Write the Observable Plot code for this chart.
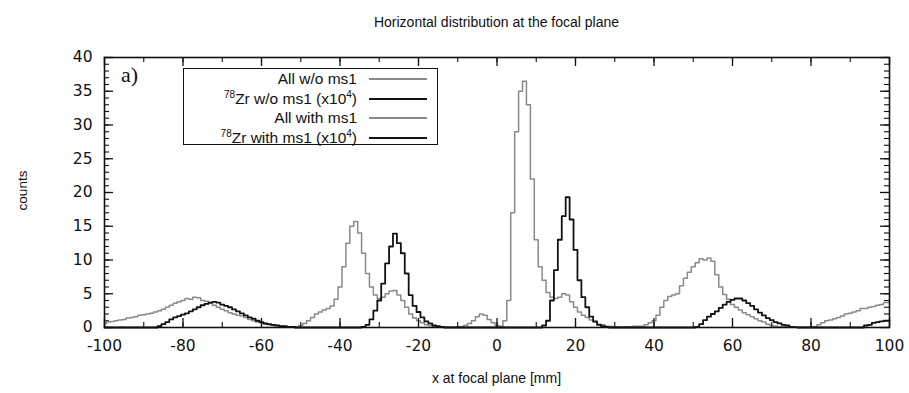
<!DOCTYPE html>
<html>
<head>
<meta charset="utf-8">
<script src="https://cdn.jsdelivr.net/npm/d3@7"></script>
<script src="https://cdn.jsdelivr.net/npm/@observablehq/plot@0.6"></script>
<style>
  body { margin: 0; background: #fff; }
  #wrap { position: relative; width: 909px; height: 393px; font-family: "Liberation Sans", Arial, sans-serif; color: #111; }
  #title { height: 45px; width: 909px; position: relative; }
  #title span { position: absolute; left: 104px; width: 785px; top: 14px; text-align: center; font-size: 14px; }
  .ov { position: absolute; white-space: nowrap; }
  #legend { position: absolute; left: 183px; top: 68px; width: 253px; height: 75px; border: 1.6px solid #111; background: #fff; }
  .row { position: absolute; left: 0; width: 253px; height: 20px; }
  .row .lab { position: absolute; right: 80px; top: 0; font-size: 15.5px; line-height: 20px; text-align: right; }
  .row .lab sup { font-size: 10px; vertical-align: 6px; line-height: 0; }
  .row .smp { position: absolute; left: 185px; width: 58px; top: 9px; height: 0; border-top: 2px solid; }
</style>
</head>
<body>
<div id="wrap">
  <div id="title"><span>Horizontal distribution at the focal plane</span></div>
  <div id="chart"></div>
  <div class="ov" style="left:121px;top:62px;font-family:'Liberation Serif',serif;font-size:22px;">a)</div>
  <div class="ov" style="left:104px;width:785px;top:370px;text-align:center;font-size:14px;">x at focal plane [mm]</div>
  <div class="ov" style="left:-8px;top:183px;width:60px;text-align:center;font-size:13.5px;transform:rotate(-90deg);">counts</div>
  <div id="legend"></div>
</div>
<script>
// bins: x from -100 to 100 mm, 1 mm step
const xBins = d3.range(-100, 101);

// "All" (grey) histogram counts
const allCounts = [
  0.6,0.8,0.9,1.0,1.1,1.2,1.4,1.5,1.6,1.8,
  1.9,2.0,2.1,2.3,2.5,2.7,3.0,3.3,3.6,3.8,
  4.0,4.3,4.2,4.5,4.4,4.0,3.9,3.6,3.3,3.0,
  2.7,2.5,2.2,2.0,1.8,1.7,1.5,1.2,1.0,0.8,
  0.7,0.5,0.4,0.3,0.3,0.2,0.1,0.1,0.1,0.1,
  0.3,0.6,1.0,1.5,2.0,2.3,2.6,2.8,3.2,4.2,
  6.0,9.0,12.5,15.0,15.7,14.0,11.0,8.0,6.0,4.8,
  4.3,4.5,5.0,5.4,5.5,4.8,4.0,3.0,2.0,1.4,
  1.0,0.7,0.4,0.3,0.2,0.1,0.1,0.05,0.05,0.05,
  0.1,0.1,0.3,0.6,1.0,1.6,2.0,1.8,1.2,0.7,
  0.3,0.2,1.0,4.0,17,29,35,36.5,33,22,
  13,9,7,5.2,4.5,4.3,4.5,5.0,4.8,3.8,
  3.0,2.3,1.8,1.5,1.1,0.8,0.5,0.4,0.2,0.15,
  0.1,0.1,0.05,0.1,0.1,0.2,0.2,0.2,0.4,0.7,
  1.0,1.8,3.0,4.0,4.6,4.8,5.0,6.2,7.3,8.2,
  9.0,9.6,10.2,10.0,10.3,9.8,7.8,6.0,4.9,4.2,
  3.4,3.0,2.6,2.2,1.9,1.6,1.3,1.0,0.8,0.5,
  0.3,0.2,0.1,0.1,0.05,0.05,0.05,0.05,0.05,0.05,
  0.05,0.1,0.4,0.7,1.0,1.1,1.3,1.5,1.7,2.0,
  2.1,2.3,2.5,2.8,2.8,3.0,3.1,3.3,3.4,3.7,3.7
];

// 78Zr (black) histogram counts (x10^4)
const zrCounts = [
  0,0,0,0,0,0,0,0,0,0,
  0,0,0,0,0.2,0.5,0.8,1.2,1.5,1.7,
  1.9,2.1,2.4,2.7,3.0,3.3,3.5,3.7,3.8,3.7,
  3.4,3.2,3.0,2.7,2.4,2.1,1.8,1.5,1.3,1.0,
  0.8,0.6,0.5,0.4,0.3,0.2,0.2,0.1,0.1,0,
  0,0,0,0,0,0,0,0,0,0,
  0,0,0,0,0,0,0.1,0.4,1.2,2.5,
  4.0,6.5,9.5,12.0,13.9,12.5,11.0,8.0,4.8,3.2,
  2.3,1.5,0.9,0.6,0.3,0.2,0.1,0,0,0,
  0,0,0,0,0,0,0,0,0,0,
  0,0,0,0,0,0,0,0,0,0,
  0,0,0.3,1.0,4.0,8.5,13.0,16.5,19.3,16.0,
  11.5,7.0,4.5,3.0,1.6,0.9,0.4,0.2,0.1,0,
  0,0,0,0,0,0,0,0,0,0,
  0,0,0,0,0,0,0,0,0,0,
  0,0.1,0.5,1.1,1.6,2.0,2.4,2.9,3.4,3.8,
  4.1,4.3,4.3,4.0,3.6,3.2,2.7,2.2,1.8,1.4,
  1.1,0.8,0.6,0.4,0.3,0.1,0.05,0,0,0,
  0,0,0,0,0,0,0,0,0,0,
  0,0,0,0,0.3,0.4,0.7,0.8,0.9,1.0,1.0
];

const xTicks = [-100,-80,-60,-40,-20,0,20,40,60,80,100];
const yTicks = [0,5,10,15,20,25,30,35,40];
const xMinor = d3.range(-100, 101, 10);
const yMinor = d3.range(0, 41, 1);

const legendLabels = [
  "All w/o ms1",
  "<sup>78</sup>Zr w/o ms1 (x10<sup>4</sup>)",
  "All with ms1",
  "<sup>78</sup>Zr with ms1 (x10<sup>4</sup>)"
];
const legendColors = ["#8a8a8a", "#111", "#8a8a8a", "#111"];

const table = xBins.map((x, i) => ({x, all: allCounts[i], zr: zrCounts[i]}));

const W = 909, H = 348, mL = 104, mR = 20, mT = 12, mB = 66;
const pw = W - mL - mR, ph = H - mT - mB;

const chart = Plot.plot({
  width: W, height: H,
  marginLeft: mL, marginRight: mR, marginTop: mT, marginBottom: mB,
  style: {fontFamily: "DejaVu Sans, sans-serif", fontSize: "15.5px", color: "#111", background: "#fff"},
  x: {domain: [-100, 100], label: null},
  y: {domain: [0, 40], label: null},
  marks: [
    Plot.line(table, {x: "x", y: "all", curve: "step", stroke: "#8a8a8a", strokeWidth: 1.5}),
    Plot.line(table, {x: "x", y: "zr", curve: "step", stroke: "#111", strokeWidth: 1.8}),
    // inward ticks
    Plot.tickY(yTicks, {y: d => d, insetRight: pw - 9, stroke: "#111", strokeWidth: 1.3}),
    Plot.tickY(yTicks, {y: d => d, insetLeft: pw - 9, stroke: "#111", strokeWidth: 1.3}),
    Plot.tickY(yMinor, {y: d => d, insetRight: pw - 5, stroke: "#111", strokeWidth: 1.1}),
    Plot.tickY(yMinor, {y: d => d, insetLeft: pw - 5, stroke: "#111", strokeWidth: 1.1}),
    Plot.tickX(xTicks, {x: d => d, insetTop: ph - 9, stroke: "#111", strokeWidth: 1.3}),
    Plot.tickX(xTicks, {x: d => d, insetBottom: ph - 9, stroke: "#111", strokeWidth: 1.3}),
    Plot.tickX(xMinor, {x: d => d, insetTop: ph - 5, stroke: "#111", strokeWidth: 1.1}),
    Plot.tickX(xMinor, {x: d => d, insetBottom: ph - 5, stroke: "#111", strokeWidth: 1.1}),
    Plot.axisX(xTicks, {tickSize: 0, tickPadding: 12, label: null, tickFormat: d => String(d)}),
    Plot.axisY(yTicks, {tickSize: 0, tickPadding: 12, label: null, tickFormat: d => String(d)}),
    Plot.frame({stroke: "#111", strokeWidth: 1.6})
  ]
});
document.getElementById("chart").appendChild(chart);

const leg = document.getElementById("legend");
legendLabels.forEach((t, i) => {
  const r = document.createElement("div");
  r.className = "row";
  r.style.top = (0 + i * 19.5) + "px";
  r.innerHTML = `<span class="lab">${t}</span><span class="smp" style="border-top-color:${legendColors[i]}"></span>`;
  leg.appendChild(r);
});
</script>
</body>
</html>
